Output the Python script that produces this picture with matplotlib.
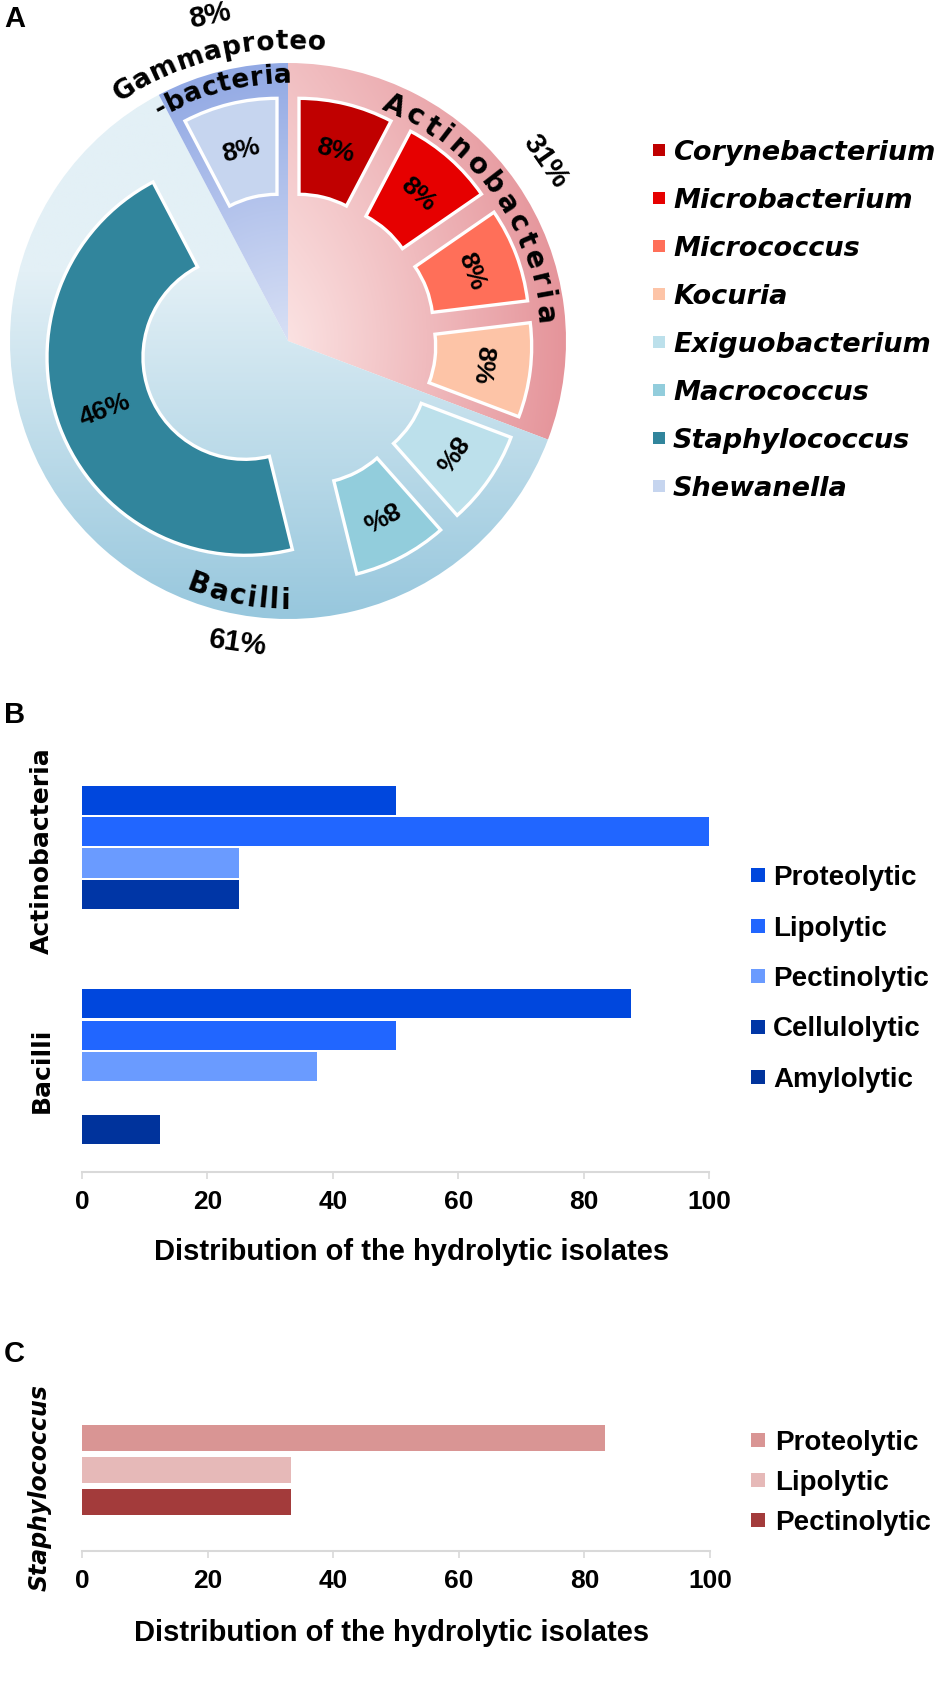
import numpy as np
import matplotlib
matplotlib.use("Agg")
import matplotlib.pyplot as plt
from matplotlib.patches import Wedge, Rectangle
from matplotlib.font_manager import FontProperties
from matplotlib.textpath import TextToPath
from matplotlib.colors import to_rgb

plt.rcParams['font.family'] = ['Liberation Sans', 'DejaVu Sans']
plt.rcParams['font.weight'] = 'bold'

# ---------------- data ----------------
genera = ['Corynebacterium', 'Microbacterium', 'Micrococcus', 'Kocuria',
          'Exiguobacterium', 'Macrococcus', 'Staphylococcus', 'Shewanella']
genus_counts = [1, 1, 1, 1, 1, 1, 6, 1]
genus_pct_labels = ['8%', '8%', '8%', '8%', '8%', '8%', '46%', '8%']
genus_colors = ['#C00000', '#E60000', '#FF6F59', '#FDC4A7',
                '#BCE0EB', '#92CDDC', '#31859C', '#C6D5EF']

classes = ['Actinobacteria', 'Bacilli', 'Gammaproteobacteria']
class_counts = [4, 8, 1]
class_pct_labels = ['31%', '61%', '8%']

activities_B = ['Proteolytic', 'Lipolytic', 'Pectinolytic', 'Cellulolytic', 'Amylolytic']
groups_B = ['Actinobacteria', 'Bacilli']
actino_vals = [50, 100, 25, 25, 0]
bacilli_vals = [87.5, 50, 37.5, 0, 12.5]
colors_B = ['#0047DD', '#2166FF', '#6A9BFF', '#0036A6', '#00339C']

activities_C = ['Proteolytic', 'Lipolytic', 'Pectinolytic']
groups_C = ['Staphylococcus']
staph_vals = [83.3, 33.3, 33.3]
colors_C = ['#D99594', '#E6B9B8', '#A33B3B']

x_ticks = [0, 20, 40, 60, 80, 100]
xlabel_text = 'Distribution of the hydrolytic isolates'

# ---------------- figure ----------------
W, H = 950, 1688
DPI = 100
fig = plt.figure(figsize=(W / DPI, H / DPI), dpi=DPI)


def px_axes(left, top, right, bottom):
    return fig.add_axes([left / W, 1 - bottom / H, (right - left) / W, (bottom - top) / H])


# overlay axes in pixel coordinates (y down)
axO = px_axes(0, 0, W, H)
axO.set_xlim(0, W)
axO.set_ylim(H, 0)
axO.axis('off')
axO.set_zorder(5)

# ---------------- panel A ----------------
AH = 700
axA = px_axes(0, 0, W, AH)
axA.set_xlim(0, W)
axA.set_ylim(0, AH)
axA.axis('off')


def Y(ypx):
    return AH - ypx


cx, cy = 288, Y(341)
R = 278
explode = 46
r_out, ring_w = 198, 96
total = sum(genus_counts)

fp_cls = FontProperties(family='DejaVu Sans', weight='bold', size=20)
fp_gam = FontProperties(family='DejaVu Sans', weight='bold', size=19)
fp_pct = FontProperties(family='Liberation Sans', weight='bold', size=19)
fp_big = FontProperties(family='Liberation Sans', weight='bold', size=21)

# class wedges with gradient fills
xs = np.linspace(cx - R, cx + R, 500)
ys = np.linspace(cy - R, cy + R, 500)
GX, GY = np.meshgrid(xs, ys)
RR = np.hypot(GX - cx, GY - cy) / R


def grad_img(t, c0, c1):
    t = np.clip(t, 0, 1)[..., None]
    a = np.array(to_rgb(c0))
    b = np.array(to_rgb(c1))
    return a * (1 - t) + b * t


t_act = 0.55 * (GX - cx) / R + 0.45 * RR
t_bac = (cy + 0.25 * R - GY) / (1.25 * R)
t_gam = RR
grads = [grad_img(t_act, '#FBE2E2', '#E5949A'),
         grad_img(t_bac, '#E3F0F6', '#97C7DD'),
         grad_img(t_gam, '#D8E0F5', '#92A9E4')]

start = 90.0
for k, cnt in enumerate(class_counts):
    span = cnt / total * 360
    t2, t1 = start, start - span
    wd = Wedge((cx, cy), R, t1, t2, facecolor='none', edgecolor='none')
    axA.add_patch(wd)
    im = axA.imshow(grads[k], extent=(cx - R, cx + R, cy - R, cy + R),
                    origin='lower', interpolation='bilinear', zorder=1)
    im.set_clip_path(wd)
    start = t1
axA.set_xlim(0, W)
axA.set_ylim(0, AH)

# genus wedges (exploded rings)
start = 90.0
for g, cnt in enumerate(genus_counts):
    span = cnt / total * 360
    t2, t1 = start, start - span
    mid = np.deg2rad((t1 + t2) / 2)
    ox, oy = cx + explode * np.cos(mid), cy + explode * np.sin(mid)
    axA.add_patch(Wedge((ox, oy), r_out, t1, t2, width=ring_w,
                        facecolor=genus_colors[g], edgecolor='white',
                        linewidth=2.4, zorder=3))
    rl = r_out - ring_w / 2
    lx, ly = ox + rl * np.cos(mid), oy + rl * np.sin(mid)
    md = np.rad2deg(mid)
    rot = md - 180 if span > 90 else md - 90
    axA.text(lx, ly, genus_pct_labels[g], fontproperties=fp_pct, rotation=rot,
             ha='center', va='center', rotation_mode='anchor', color='black', zorder=4)
    start = t1

ttp = TextToPath()


def arc_text(ax, s, r, theta_c, fp, spacing, outward=True):
    widths = []
    for ch in s:
        w, h, d = ttp.get_text_width_height_descent(ch, fp, ismath=False)
        widths.append(w * DPI / 72.0)
    tot = sum(widths) + spacing * (len(s) - 1)
    pos = -tot / 2
    tc = np.deg2rad(theta_c)
    for ch, w in zip(s, widths):
        m = pos + w / 2
        if outward:
            th = tc - m / r
            rot = np.rad2deg(th) - 90
        else:
            th = tc + m / r
            rot = np.rad2deg(th) + 90
        ax.text(cx + r * np.cos(th), cy + r * np.sin(th), ch, fontproperties=fp,
                rotation=rot, ha='center', va='baseline', rotation_mode='anchor',
                color='black', zorder=6)
        pos += w + spacing


arc_text(axA, classes[0], 250, 36, fp_cls, 4.0, outward=True)
arc_text(axA, classes[1], 268, 259, fp_cls, 2.0, outward=False)
arc_text(axA, 'Gammaproteo', 292, 104.0, fp_gam, 0.6, outward=True)
arc_text(axA, '-bacteria', 258, 104.5, fp_gam, 0.6, outward=True)


def polar(r, ang):
    a = np.deg2rad(ang)
    return cx + r * np.cos(a), cy + r * np.sin(a)


for lab, (r, ang, rot) in zip(class_pct_labels, [(314, 35, -55), (306, 260.5, -8), (334, 103.5, 12)]):
    x, y = polar(r, ang)
    axA.text(x, y, lab, fontproperties=fp_big, rotation=rot, ha='center', va='center',
             rotation_mode='anchor', zorder=6)

# legend A
fp_legA = FontProperties(family='DejaVu Sans', weight='bold', style='oblique', size=19.5)
legA_y0, legA_dy = 150, 48
for g, name in enumerate(genera):
    yc = legA_y0 + g * legA_dy
    axO.add_patch(Rectangle((653, yc - 6), 12, 12, facecolor=genus_colors[g], edgecolor='none'))
    axO.text(673, yc, name, fontproperties=fp_legA, ha='left', va='center_baseline')

fp_panel = FontProperties(family='Liberation Sans', weight='bold', size=21)
axO.text(4, 19, 'A', fontproperties=fp_panel, ha='left', va='center')
axO.text(4, 715, 'B', fontproperties=fp_panel, ha='left', va='center')
axO.text(4, 1354, 'C', fontproperties=fp_panel, ha='left', va='center')

# ---------------- bar panels ----------------
fp_tick = FontProperties(family='Liberation Sans', weight='bold', size=19)
fp_xlab = FontProperties(family='Liberation Sans', weight='bold', size=21)
fp_leg = FontProperties(family='Liberation Sans', weight='bold', size=20)
fp_cat = FontProperties(family='DejaVu Sans', weight='bold', size=18)
fp_cat_it = FontProperties(family='DejaVu Sans', weight='bold', style='oblique', size=17)
GRID = '#D9D9D9'


def style_bar_axes(ax):
    for s in ['left', 'right', 'top']:
        ax.spines[s].set_visible(False)
    ax.spines['bottom'].set_color(GRID)
    ax.spines['bottom'].set_linewidth(1.5)
    ax.set_xlim(0, 100)
    ax.set_xticks(x_ticks)
    ax.set_xticklabels([str(t) for t in x_ticks], fontproperties=fp_tick)
    ax.tick_params(axis='x', direction='out', length=5, width=1.2, color=GRID, pad=8)
    ax.tick_params(axis='y', length=0)


# panel B
b_left, b_right = 82, 709
b_top, b_bot = 753.5, 1172
axB = px_axes(b_left, b_top, b_right, b_bot)
pos_act = np.arange(len(activities_B), dtype=float)
pos_bac = pos_act + 6.5
for j, act in enumerate(activities_B):
    axB.barh([pos_act[j], pos_bac[j]], [actino_vals[j], bacilli_vals[j]], height=0.93,
             color=colors_B[j], edgecolor='none')
axB.set_ylim(11.87, -1.5)
style_bar_axes(axB)
axB.set_yticks([1.61, 8.61])
axB.set_yticklabels(groups_B, rotation=90, fontproperties=fp_cat, ha='center', va='center')
axB.tick_params(axis='y', pad=(b_left - 42) * 72 / DPI)
axB.set_xlabel(xlabel_text, fontproperties=fp_xlab)
axB.xaxis.set_label_coords((412 - b_left) / (b_right - b_left), (b_bot - 1252) / (b_bot - b_top))
axB.xaxis.label.set_verticalalignment('center')

# legend B
for j, act in enumerate(activities_B):
    yc = 875 + j * 50.5
    axO.add_patch(Rectangle((751, yc - 7), 14, 14, facecolor=colors_B[j], edgecolor='none'))
    axO.text(773, yc, act, fontproperties=fp_leg, ha='left', va='center_baseline')

# panel C
c_left, c_right = 82, 710
c_top, c_bot = 1390, 1551
axC = px_axes(c_left, c_top, c_right, c_bot)
pos_c = np.arange(len(activities_C), dtype=float)
axC.barh(pos_c, staph_vals, height=0.84, color=colors_C, edgecolor='none')
axC.set_ylim(3.53, -1.5)
style_bar_axes(axC)
axC.set_yticks([1.55])
axC.set_yticklabels(groups_C, rotation=90, fontproperties=fp_cat_it, ha='center', va='center')
axC.tick_params(axis='y', pad=(c_left - 40) * 72 / DPI)
axC.set_xlabel(xlabel_text, fontproperties=fp_xlab)
axC.xaxis.set_label_coords((392 - c_left) / (c_right - c_left), (c_bot - 1633) / (c_bot - c_top))
axC.xaxis.label.set_verticalalignment('center')

for j, act in enumerate(activities_C):
    yc = 1440 + j * 40
    axO.add_patch(Rectangle((751, yc - 7), 14, 14, facecolor=colors_C[j], edgecolor='none'))
    axO.text(775, yc, act, fontproperties=fp_leg, ha='left', va='center_baseline')

fig.savefig('out.png', dpi=DPI, facecolor='white')
